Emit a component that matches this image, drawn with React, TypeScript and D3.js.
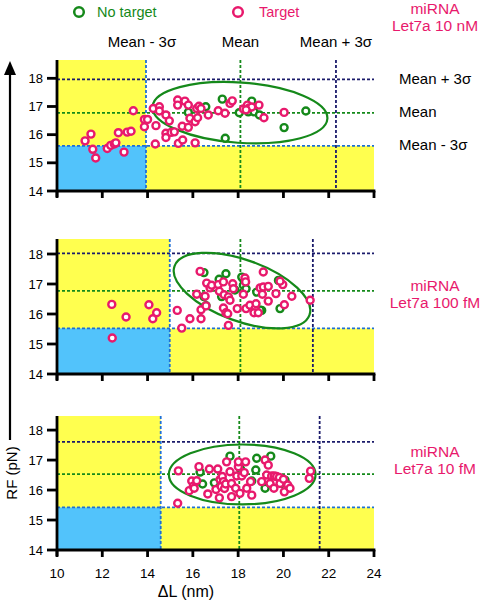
import React from "react";
import * as d3 from "d3";

type P = [number, number];

// ---------- DATA ----------
const xTicks = [10, 12, 14, 16, 18, 20, 22, 24];
const yTicks = [14, 15, 16, 17, 18];
const panelLabels = [["miRNA", "Let7a 10 nM"], ["miRNA", "Let7a 100 fM"], ["miRNA", "Let7a 10 fM"]];
const seriesNames = ["No target", "Target"];
const sigmaLabels = ["Mean - 3σ", "Mean", "Mean + 3σ"];

// thresholds: [mean-3σ, mean, mean+3σ]
const thrL = [[13.93, 18.1, 22.32], [14.98, 18.1, 21.3], [14.58, 18.05, 21.6]];
const thrRF = [[15.6, 16.77, 17.96], [15.52, 16.77, 18.02], [15.42, 16.53, 17.61]];
// ellipses: cx (ΔL), cy (RF), rx (ΔL units), ry (RF units), angle (deg)
const ellipses = [[18.08, 16.78, 3.87, 1.07, 4], [18.17, 16.78, 3.17, 1.02, 20], [18.18, 16.52, 3.24, 1.0, 0]];

const topTarget: P[] = [[11.24,15.78],[11.5,16.02],[11.58,15.48],[11.71,15.17],[12.22,15.51],[12.37,15.62],[12.53,15.67],[12.6,15.71],[12.71,16.07],[12.96,15.38],[13.1,16.09],[13.27,16.12],[13.37,16.85],[13.86,16.54],[13.86,16.28],[14.0,16.54],[14.34,15.67],[14.37,16.32],[14.25,16.93],[14.52,16.99],[14.52,16.84],[14.81,16.7],[14.81,16.05],[14.96,16.49],[14.81,15.9],[15.04,16.08],[15.18,16.1],[15.36,15.69],[15.55,15.81],[15.33,17.23],[15.33,17.05],[15.65,17.19],[15.8,17.05],[15.53,16.3],[15.8,16.26],[16.1,15.71],[15.87,16.58],[16.1,16.46],[16.21,16.6],[16.17,16.93],[16.27,17.01],[16.36,16.93],[16.68,16.7],[17.12,16.85],[17.42,16.76],[17.64,17.11],[17.74,17.2],[18.23,16.91],[18.41,17.05],[18.49,16.95],[18.6,16.98],[18.35,16.88],[18.92,17.05],[19.14,16.6],[20.03,16.79]];
const topNoTarget: P[] = [[17.3,17.26],[16.57,16.99],[15.8,16.79],[17.43,15.87],[18.05,16.78],[18.6,17.19],[18.45,16.81],[18.7,16.81],[18.94,16.7],[20.03,16.25],[20.99,16.84]];

const midTarget: P[] = [[12.42,16.32],[13.05,15.9],[14.06,16.31],[14.4,16.04],[14.23,15.84],[12.44,15.2],[15.31,16.12],[15.51,15.53],[15.87,15.84],[16.36,15.84],[16.36,16.14],[16.17,16.66],[16.54,16.59],[16.58,16.27],[16.32,17.42],[16.61,17.03],[16.76,16.87],[16.83,16.96],[17.12,16.98],[17.17,16.76],[17.35,17.07],[17.38,16.64],[17.57,16.57],[17.64,16.46],[17.76,17.01],[17.79,16.84],[17.35,16.2],[17.46,16.04],[17.54,16.01],[17.57,15.62],[17.96,16.18],[18.23,16.66],[18.3,17.2],[18.33,17.07],[18.35,16.18],[18.52,16.29],[18.75,16.18],[18.79,16.34],[18.7,16.04],[18.89,16.04],[18.97,16.87],[19.07,16.66],[19.11,16.9],[19.11,17.4],[19.33,16.92],[19.33,16.43],[19.67,16.68],[19.97,16.98],[19.85,17.09],[20.04,16.31],[20.37,16.59],[21.18,16.46]];
const midNoTarget: P[] = [[16.49,17.38],[17.46,17.34],[17.16,17.16],[18.16,17.23],[18.23,16.96],[18.35,16.84],[18.82,16.73],[19.78,17.12],[19.85,16.18],[19.04,16.12],[16.49,16.58],[16.58,16.28],[17.27,16.58],[17.86,16.8],[18.97,16.13]];

const botTarget: P[] = [[15.36,16.64],[15.33,15.56],[15.84,15.98],[15.95,16.3],[16.02,16.13],[16.06,16.06],[16.17,16.31],[16.27,16.78],[16.66,15.87],[16.73,16.7],[17.02,16.02],[17.1,16.7],[17.17,15.74],[17.2,16.35],[17.3,16.45],[17.35,16.28],[17.25,16.12],[17.4,16.05],[17.45,16.2],[17.49,16.94],[17.64,16.61],[17.71,16.22],[17.71,15.78],[17.89,16.06],[17.94,16.47],[18.01,16.78],[18.01,16.94],[18.08,15.89],[18.16,16.47],[18.27,16.58],[18.33,16.94],[18.38,16.06],[18.55,16.28],[18.6,15.83],[19.04,16.28],[19.19,17.0],[19.26,16.5],[19.33,16.83],[19.41,16.22],[19.48,16.47],[19.6,16.47],[19.7,16.45],[19.82,16.42],[19.58,16.06],[19.85,16.22],[20.0,16.36],[20.04,15.94],[20.19,16.17],[20.29,16.06],[21.14,16.39],[21.2,16.63]];
const botNoTarget: P[] = [[17.64,17.13],[18.82,17.06],[19.44,17.13],[16.32,16.6],[16.43,16.2],[16.95,16.24],[18.78,16.67],[18.6,16.3],[19.19,16.06],[19.92,16.22],[18.11,16.69],[20.07,16.33]];

const targetSets = [topTarget, midTarget, botTarget];
const noTargetSets = [topNoTarget, midNoTarget, botNoTarget];

// ---------- LAYOUT / STYLE ----------
const W = 480, H = 600;
const X0 = 57, X1 = 374;
const panels = [
  { top: 60, base: 191, yMax: 18.65, labelY: 9 },
  { top: 239, base: 374, yMax: 18.5, labelY: 286 },
  { top: 416, base: 550, yMax: 18.47, labelY: 452 },
];
const YELLOW = "#ffff4f";
const BLUE = "#52c3fb";
const PINK = "#e8196c";
const GREEN = "#15891a";
const NAVY = "#1b1b6b";
const DBLUE = "#1f6fd6";
const FONT = "Arial, 'Liberation Sans', Helvetica, sans-serif";

const x = d3.scaleLinear().domain([10, 24]).range([X0, X1]);

function Panel({ i }: { i: number }) {
  const p = panels[i];
  const y = d3.scaleLinear().domain([14, p.yMax]).range([p.base, p.top]);
  const [lm, lmean, lp] = thrL[i];
  const [rm, rmean, rp] = thrRF[i];
  const [ecx, ecy, erx, ery, ea] = ellipses[i];
  const exp = x(ecx), eyp = y(ecy);
  const rxp = x(ecx + erx) - exp;
  const ryp = y(ecy) - y(ecy + ery);
  const dash = "3,2";
  const sw = 1.8;
  return (
    <g>
      {/* backgrounds */}
      <rect x={x(10)} y={y(p.yMax)} width={x(lm) - x(10)} height={y(14) - y(p.yMax)} fill={YELLOW} />
      <rect x={x(10)} y={y(rm)} width={x(24) - x(10)} height={y(14) - y(rm)} fill={YELLOW} />
      <rect x={x(10)} y={y(rm)} width={x(lm) - x(10)} height={y(14) - y(rm)} fill={BLUE} />
      {/* horizontal threshold lines */}
      <line x1={x(10)} x2={x(24)} y1={y(rp)} y2={y(rp)} stroke={NAVY} strokeWidth={sw} strokeDasharray={dash} />
      <line x1={x(10)} x2={x(24)} y1={y(rmean)} y2={y(rmean)} stroke={GREEN} strokeWidth={sw} strokeDasharray={dash} />
      <line x1={x(10)} x2={x(24)} y1={y(rm)} y2={y(rm)} stroke={DBLUE} strokeWidth={sw} strokeDasharray={dash} />
      {/* vertical threshold lines */}
      <line x1={x(lm)} x2={x(lm)} y1={y(p.yMax)} y2={y(14)} stroke={DBLUE} strokeWidth={sw} strokeDasharray={dash} />
      <line x1={x(lmean)} x2={x(lmean)} y1={y(p.yMax)} y2={y(14)} stroke={GREEN} strokeWidth={sw} strokeDasharray={dash} />
      <line x1={x(lp)} x2={x(lp)} y1={y(p.yMax)} y2={y(14)} stroke={NAVY} strokeWidth={sw} strokeDasharray={dash} />
      {/* ellipse */}
      <ellipse cx={exp} cy={eyp} rx={rxp} ry={ryp} transform={`rotate(${ea},${exp},${eyp})`} fill="none" stroke={GREEN} strokeWidth={2.2} />
      {/* points */}
      {noTargetSets[i].map((d, k) => (
        <circle key={"g" + k} cx={x(d[0])} cy={y(d[1])} r={3.5} fill="white" stroke={GREEN} strokeWidth={2.4} />
      ))}
      {targetSets[i].map((d, k) => (
        <circle key={"p" + k} cx={x(d[0])} cy={y(d[1])} r={3.5} fill="white" stroke={PINK} strokeWidth={2.4} />
      ))}
      {/* axes */}
      <line x1={X0} x2={X0} y1={y(p.yMax)} y2={y(14) + 6} stroke="black" strokeWidth={2.8} />
      <line x1={X0 - 1} x2={x(24) + 1.4} y1={y(14)} y2={y(14)} stroke="black" strokeWidth={2.8} />
      {yTicks.map((t) => (
        <g key={"yt" + t}>
          <line x1={X0 - 10} x2={X0} y1={y(t)} y2={y(t)} stroke="black" strokeWidth={2.8} />
          <text x={X0 - 14} y={y(t)} dy="0.35em" textAnchor="end" fontSize={13} fontFamily={FONT}>{t}</text>
        </g>
      ))}
      {xTicks.map((t) => (
        <line key={"xt" + t} x1={x(t)} x2={x(t)} y1={y(14)} y2={y(14) + 7} stroke="black" strokeWidth={2.8} />
      ))}
      {/* right label */}
      <text x={435} y={p.labelY} textAnchor="middle" fontSize={15.5} fontFamily={FONT} fill={PINK}>
        <tspan x={435} dy="0.35em">{panelLabels[i][0]}</tspan>
        <tspan x={435} dy="1.08em">{panelLabels[i][1]}</tspan>
      </text>
    </g>
  );
}

export default function App() {
  const topY = d3.scaleLinear().domain([14, panels[0].yMax]).range([panels[0].base, panels[0].top]);
  return (
    <svg width={W} height={H} style={{ position: "absolute", left: 0, top: 0, background: "white" }} fontFamily={FONT}>
      {/* legend */}
      <circle cx={79} cy={12} r={4.8} fill="white" stroke={GREEN} strokeWidth={2.5} />
      <text x={97} y={12} dy="0.35em" fontSize={14.5} fill={GREEN}>{seriesNames[0]}</text>
      <circle cx={238} cy={12} r={4.8} fill="white" stroke={PINK} strokeWidth={2.5} />
      <text x={259} y={12} dy="0.35em" fontSize={14.5} fill={PINK}>{seriesNames[1]}</text>
      {/* top sigma labels */}
      {sigmaLabels.map((s, k) => (
        <text key={"ts" + k} x={x(thrL[0][k]) - (k === 0 ? 4 : 0)} y={42} dy="0.35em" textAnchor="middle" fontSize={15}>{s}</text>
      ))}
      {/* right sigma labels (top panel) */}
      {[2, 1, 0].map((k) => (
        <text key={"rs" + k} x={399} y={topY(thrRF[0][k]) - 1} dy="0.35em" fontSize={15}>{sigmaLabels[k]}</text>
      ))}
      {panels.map((_, i) => <Panel key={i} i={i} />)}
      {/* x tick labels */}
      {xTicks.map((t) => (
        <text key={"xl" + t} x={x(t)} y={573} dy="0.35em" textAnchor="middle" fontSize={13.5}>{t}</text>
      ))}
      <text x={186} y={591} dy="0.35em" textAnchor="middle" fontSize={16}>ΔL (nm)</text>
      {/* RF arrow */}
      <line x1={10} x2={10} y1={440} y2={72} stroke="black" strokeWidth={2.2} />
      <path d="M10,61 L4,75 L16,75 Z" fill="black" />
      <text transform="translate(12,473) rotate(-90)" dy="0.35em" textAnchor="middle" fontSize={15}>RF (pN)</text>
    </svg>
  );
}
